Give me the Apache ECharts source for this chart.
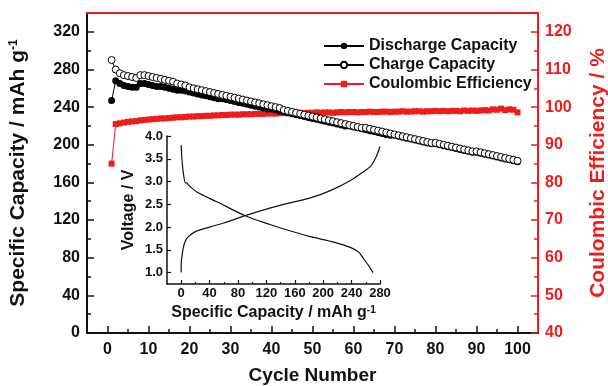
<!DOCTYPE html>
<html>
<head>
<meta charset="utf-8">
<script src="https://cdn.jsdelivr.net/npm/echarts@6/dist/echarts.min.js"></script>
<style>
  html, body { margin: 0; padding: 0; background: #fff; }
  #chart { width: 608px; height: 386px; }
</style>
</head>
<body>
<div id="chart"></div>
<script>
// 循环次数 1..100
var cycles = [];
for (var i = 1; i <= 100; i++) cycles.push(i);

// 放电容量 mAh/g
var discharge = [
    247, 268, 265, 263, 262, 261, 261, 265, 265, 264,
    263, 262, 262, 261, 260, 259, 258, 258, 257, 256,
    255, 254, 253, 252, 251, 250, 249, 249, 248, 247,
    246, 245, 244, 243, 242, 241, 240, 239, 238, 238,
    237, 236, 235, 234, 233, 232, 231, 230, 229, 228,
    227, 226, 225, 224, 223, 222, 221, 220, 220, 219,
    218, 217, 216, 215, 214, 213, 212, 211, 210, 210,
    209, 208, 207, 206, 205, 204, 203, 202, 201, 201,
    200, 199, 198, 197, 196, 195, 194, 193, 192, 192,
    191, 190, 189, 188, 187, 186, 185, 184, 183, 182
];
// 充电容量 mAh/g
var charge = [
    290, 280, 276, 274, 273, 272, 271, 274, 274, 273,
    272, 271, 270, 269, 268, 267, 265, 264, 263, 261,
    260, 259, 258, 257, 256, 255, 254, 253, 252, 251,
    250, 249, 248, 247, 246, 245, 244, 243, 242, 241,
    240, 239, 237, 236, 235, 234, 233, 232, 231, 230,
    229, 228, 227, 226, 225, 224, 223, 222, 221, 220,
    219, 218, 218, 217, 216, 215, 214, 213, 212, 211,
    210, 209, 208, 207, 206, 205, 204, 203, 202, 202,
    201, 200, 199, 198, 197, 196, 195, 194, 193, 193,
    192, 191, 190, 189, 188, 187, 186, 185, 184, 183
];
// 库伦效率 %
var efficiency = [
    85.0, 95.5, 95.7, 95.9, 96.1, 96.2, 96.3, 96.5, 96.6, 96.7,
    96.8, 96.9, 97.0, 97.0, 97.1, 97.2, 97.3, 97.3, 97.4, 97.5,
    97.5, 97.6, 97.6, 97.7, 97.7, 97.8, 97.8, 97.9, 97.9, 98.0,
    98.0, 98.0, 98.1, 98.1, 98.1, 98.2, 98.2, 98.2, 98.3, 98.3,
    98.3, 98.4, 98.4, 98.4, 98.4, 98.5, 98.5, 98.4, 98.5, 98.5,
    98.6, 98.5, 98.6, 98.6, 98.5, 98.6, 98.7, 98.6, 98.7, 98.7,
    98.6, 98.7, 98.7, 98.8, 98.7, 98.7, 98.8, 98.8, 98.7, 98.8,
    98.8, 98.9, 98.8, 98.8, 98.9, 98.9, 98.8, 98.9, 98.9, 99.0,
    98.9, 99.0, 98.9, 99.0, 99.0, 98.9, 99.1, 99.0, 99.1, 99.0,
    99.1, 99.2, 99.1, 99.4, 99.3, 99.6, 99.2, 99.4, 99.3, 98.6
];
// 小图：充放电曲线 [容量, 电压]
var chargeCurve = [
    [0, 1.0], [0, 1.2], [1, 1.35], [3, 1.55], [6, 1.7], [10, 1.79], [20, 1.9],
    [40, 2.0], [60, 2.09], [90, 2.25], [126, 2.42], [150, 2.52], [182, 2.64],
    [210, 2.8], [239, 3.03], [255, 3.2], [267, 3.34], [274, 3.52], [280, 3.77]
];
var dischargeCurve = [
    [0, 3.8], [1, 3.5], [3, 3.19], [6, 2.97], [8, 2.97], [10, 2.93], [22, 2.77],
    [51, 2.55], [90, 2.25], [126, 2.05], [140, 1.98], [182, 1.79], [215, 1.67],
    [239, 1.55], [250, 1.45], [257, 1.3], [265, 1.13], [270, 1.0]
];

// 刻度
var xMajor = [0, 10, 20, 30, 40, 50, 60, 70, 80, 90, 100];
var xMinor = [5, 15, 25, 35, 45, 55, 65, 75, 85, 95];
var yLeftMajor = [0, 40, 80, 120, 160, 200, 240, 280, 320];
var yLeftMinor = [20, 60, 100, 140, 180, 220, 260, 300];
var yRightMajor = [40, 50, 60, 70, 80, 90, 100, 110, 120];
var yRightMinor = [45, 55, 65, 75, 85, 95, 105, 115];
var insetXMajor = [0, 40, 80, 120, 160, 200, 240, 280];
var insetXMinor = [20, 60, 100, 140, 180, 220, 260];
var insetYMajor = [1.0, 1.5, 2.0, 2.5, 3.0, 3.5, 4.0];

var FONT = 'Liberation Sans, Arial, sans-serif';
var RED = '#ee1c1c';

function pair(xs, ys) {
    return ys.map(function (v, i) { return [xs[i], v]; });
}
function minorAxis(extra) {
    var base = {
        axisLine: { show: false, onZero: false },
        axisLabel: { show: false },
        splitLine: { show: false }
    };
    return Object.assign(base, extra);
}

var chart = echarts.init(document.getElementById('chart'));
chart.setOption({
    animation: false,
    textStyle: { fontFamily: FONT },
    grid: [
        { left: 87, right: 70, top: 13, bottom: 53, outerBoundsMode: 'none', containLabel: false },
        { left: 167, right: 228, top: 136, bottom: 102, outerBoundsMode: 'none', containLabel: false }
    ],
    legend: {
        orient: 'vertical',
        left: 318,
        top: 33,
        itemWidth: 40,
        itemHeight: 8,
        itemGap: 3,
        textStyle: { fontFamily: FONT, fontSize: 16, fontWeight: 'bold', color: '#111' },
        data: ['Discharge Capacity', 'Charge Capacity', 'Coulombic Efficiency']
    },
    xAxis: [
        {
            gridIndex: 0, type: 'value', position: 'bottom', min: -5, max: 105,
            name: 'Cycle Number', nameLocation: 'middle', nameGap: 33,
            nameTextStyle: { fontFamily: FONT, fontSize: 19, fontWeight: 'bold', color: '#111' },
            axisLine: { onZero: false, lineStyle: { color: '#111', width: 2 } },
            axisTick: { inside: true, length: 7, customValues: xMajor, lineStyle: { color: '#111', width: 1.5 } },
            axisLabel: { margin: 9, customValues: xMajor, fontFamily: FONT, fontSize: 16, fontWeight: 'bold', color: '#111' },
            splitLine: { show: false }
        },
        minorAxis({
            gridIndex: 0, type: 'value', position: 'bottom', min: -5, max: 105,
            axisTick: { inside: true, length: 4, customValues: xMinor, lineStyle: { color: '#111', width: 1.5 } }
        }),
        {
            gridIndex: 0, type: 'value', position: 'top', min: -5, max: 105,
            axisLine: { onZero: false, lineStyle: { color: RED, width: 2 } },
            axisTick: { show: false }, axisLabel: { show: false }, splitLine: { show: false }
        },
        {
            gridIndex: 1, type: 'value', position: 'bottom', min: -20, max: 280,
            name: 'Specific Capacity / mAh g{sup|-1}', nameLocation: 'middle', nameGap: 21,
            nameTextStyle: {
                fontFamily: FONT, fontSize: 16, fontWeight: 'bold', color: '#111',
                rich: { sup: { fontFamily: FONT, fontSize: 10, fontWeight: 'bold', color: '#111', verticalAlign: 'top' } }
            },
            axisLine: { onZero: false, lineStyle: { color: '#111', width: 1.5 } },
            axisTick: { inside: true, length: 4, customValues: insetXMajor, lineStyle: { color: '#111', width: 1.2 } },
            axisLabel: { margin: 3, customValues: insetXMajor, fontFamily: FONT, fontSize: 13, fontWeight: 'bold', color: '#111' },
            splitLine: { show: false }
        },
        minorAxis({
            gridIndex: 1, type: 'value', position: 'bottom', min: -20, max: 280,
            axisTick: { inside: true, length: 2, customValues: insetXMinor, lineStyle: { color: '#111', width: 1.2 } }
        })
    ],
    yAxis: [
        {
            gridIndex: 0, type: 'value', position: 'left', min: 0, max: 340,
            name: 'Specific Capacity / mAh g{sup|-1}', nameLocation: 'middle', nameGap: 58,
            nameTextStyle: {
                fontFamily: FONT, fontSize: 21, fontWeight: 'bold', color: '#111',
                rich: { sup: { fontFamily: FONT, fontSize: 12, fontWeight: 'bold', color: '#111', verticalAlign: 'top' } }
            },
            axisLine: { onZero: false, lineStyle: { color: '#111', width: 2 } },
            axisTick: { inside: true, length: 7, customValues: yLeftMajor, lineStyle: { color: '#111', width: 1.5 } },
            axisLabel: { margin: 7, customValues: yLeftMajor, fontFamily: FONT, fontSize: 16, fontWeight: 'bold', color: '#111' },
            splitLine: { show: false }
        },
        minorAxis({
            gridIndex: 0, type: 'value', position: 'left', min: 0, max: 340,
            axisTick: { inside: true, length: 4, customValues: yLeftMinor, lineStyle: { color: '#111', width: 1.5 } }
        }),
        {
            gridIndex: 0, type: 'value', position: 'right', min: 40, max: 125,
            name: 'Coulombic Efficiency / %', nameLocation: 'middle', nameGap: 50,
            nameTextStyle: { fontFamily: FONT, fontSize: 21, fontWeight: 'bold', color: RED },
            axisLine: { onZero: false, lineStyle: { color: RED, width: 2 } },
            axisTick: { inside: true, length: 7, customValues: yRightMajor, lineStyle: { color: RED, width: 1.5 } },
            axisLabel: { margin: 7, customValues: yRightMajor, fontFamily: FONT, fontSize: 16, fontWeight: 'bold', color: RED },
            splitLine: { show: false }
        },
        minorAxis({
            gridIndex: 0, type: 'value', position: 'right', min: 40, max: 125,
            axisTick: { inside: true, length: 4, customValues: yRightMinor, lineStyle: { color: RED, width: 1.5 } }
        }),
        {
            gridIndex: 1, type: 'value', position: 'left', min: 0.75, max: 4.0,
            name: 'Voltage / V', nameLocation: 'middle', nameGap: 30,
            nameTextStyle: { fontFamily: FONT, fontSize: 16, fontWeight: 'bold', color: '#111' },
            axisLine: { onZero: false, lineStyle: { color: '#111', width: 1.5 } },
            axisTick: { inside: true, length: 4, customValues: insetYMajor, lineStyle: { color: '#111', width: 1.2 } },
            axisLabel: {
                margin: 4, customValues: insetYMajor, fontFamily: FONT, fontSize: 13, fontWeight: 'bold', color: '#111',
                formatter: function (v) { return v.toFixed(1); }
            },
            splitLine: { show: false }
        }
    ],
    series: [
        {
            name: 'Discharge Capacity', type: 'line', xAxisIndex: 0, yAxisIndex: 0, z: 3,
            data: pair(cycles, discharge),
            symbol: 'circle', symbolSize: 7,
            itemStyle: { color: '#000' },
            lineStyle: { color: '#000', width: 1 }
        },
        {
            name: 'Charge Capacity', type: 'line', xAxisIndex: 0, yAxisIndex: 0, z: 4,
            data: pair(cycles, charge),
            symbol: 'circle', symbolSize: 7,
            itemStyle: { color: '#fff', borderColor: '#000', borderWidth: 1 },
            lineStyle: { color: '#000', width: 1 }
        },
        {
            name: 'Coulombic Efficiency', type: 'line', xAxisIndex: 0, yAxisIndex: 2, z: 2,
            data: pair(cycles, efficiency),
            symbol: 'rect', symbolSize: 6,
            itemStyle: { color: RED },
            lineStyle: { color: RED, width: 1 }
        },
        {
            name: 'inset charge', type: 'line', xAxisIndex: 3, yAxisIndex: 4,
            data: chargeCurve, smooth: 0.3, showSymbol: false,
            lineStyle: { color: '#111', width: 1.2 }
        },
        {
            name: 'inset discharge', type: 'line', xAxisIndex: 3, yAxisIndex: 4,
            data: dischargeCurve, smooth: 0.3, showSymbol: false,
            lineStyle: { color: '#111', width: 1.2 }
        }
    ]
});
</script>
</body>
</html>
